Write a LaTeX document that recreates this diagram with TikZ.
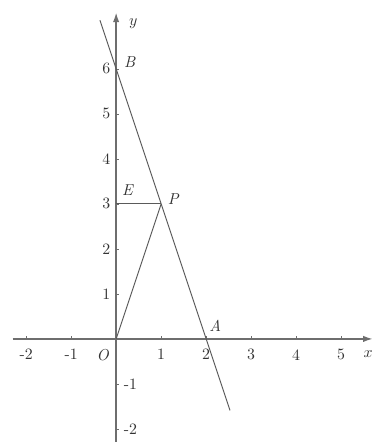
\documentclass[tikz,border=0pt]{standalone}
\definecolor{axisgray}{RGB}{110, 110, 110}
\definecolor{linegray}{RGB}{90, 90, 90}
\usepackage{amsmath, amssymb}
\usetikzlibrary{arrows.meta, positioning, calc}

\begin{document}
\begin{tikzpicture}[
	axis/.style={draw=axisgray, line width=0.9pt, -{Latex[length=6pt,width=4pt]}},
	graphline/.style={draw=linegray, line width=0.6pt},
	ticklbl/.style={font=\normalsize, text=black!80, inner sep=1pt},
	ptlbl/.style={font=\normalsize\itshape, text=black!80, inner sep=1pt}]
	\useasboundingbox (-2.58,-2.29) rectangle (5.78,7.53);
	
	% axes
	\coordinate (xs) at (-2.3,0);
	\coordinate (xe) at (5.7,0);
	\coordinate (ys) at (0,-2.29);
	\coordinate (ye) at (0,7.25);
	\draw[axis] (xs) -- (xe);
	\draw[axis] (ys) -- (ye);
	\node[ptlbl] (xlbl) at (5.6,-0.33) {$x$};
	\node[ptlbl] (ylbl) at (0.38,7.0) {$y$};
	
	% ticks
	\foreach \x in {-2,-1,1,2,3,4,5}
	\draw[axisgray] (\x,0) -- (\x,0.06);
	\foreach \y in {-2,-1,1,2,3,4,5,6}
	\draw[axisgray] (0,\y) -- (0.06,\y);
	\foreach \x in {-2,-1,1,2,3,4,5}
	\node[ticklbl] (xt\x) at (\x,-0.35) {\x};
	\foreach \y in {1,...,6}
	\node[ticklbl] (yt\y) at (-0.22,\y) {\y};
	\foreach \y in {-1,-2}
	\node[ticklbl] (yt\y) at (0.32,\y) {\y};
	
	% points
	\coordinate (O) at (0,0);
	\coordinate (A) at (2,0);
	\coordinate (B) at (0,6);
	\coordinate (P) at (1,3);
	\coordinate (E) at (0,3);
	\coordinate (Ltop) at (-0.36,7.08);
	\coordinate (Lbot) at (2.53,-1.59);
	
	\draw[graphline] (Ltop) -- (Lbot);
	\draw[graphline] (O) -- (P);
	\draw[graphline] (E) -- (P);
	
	\node[ptlbl] (Olbl) at (-0.3,-0.35) {O};
	\node[ptlbl] (Albl) at (2.2,0.3) {A};
	\node[ptlbl] (Blbl) at (0.3,6.15) {B};
	\node[ptlbl] (Elbl) at (0.25,3.3) {E};
	\node[ptlbl] (Plbl) at (1.27,3.1) {P};
	
\end{tikzpicture}
\end{document}
